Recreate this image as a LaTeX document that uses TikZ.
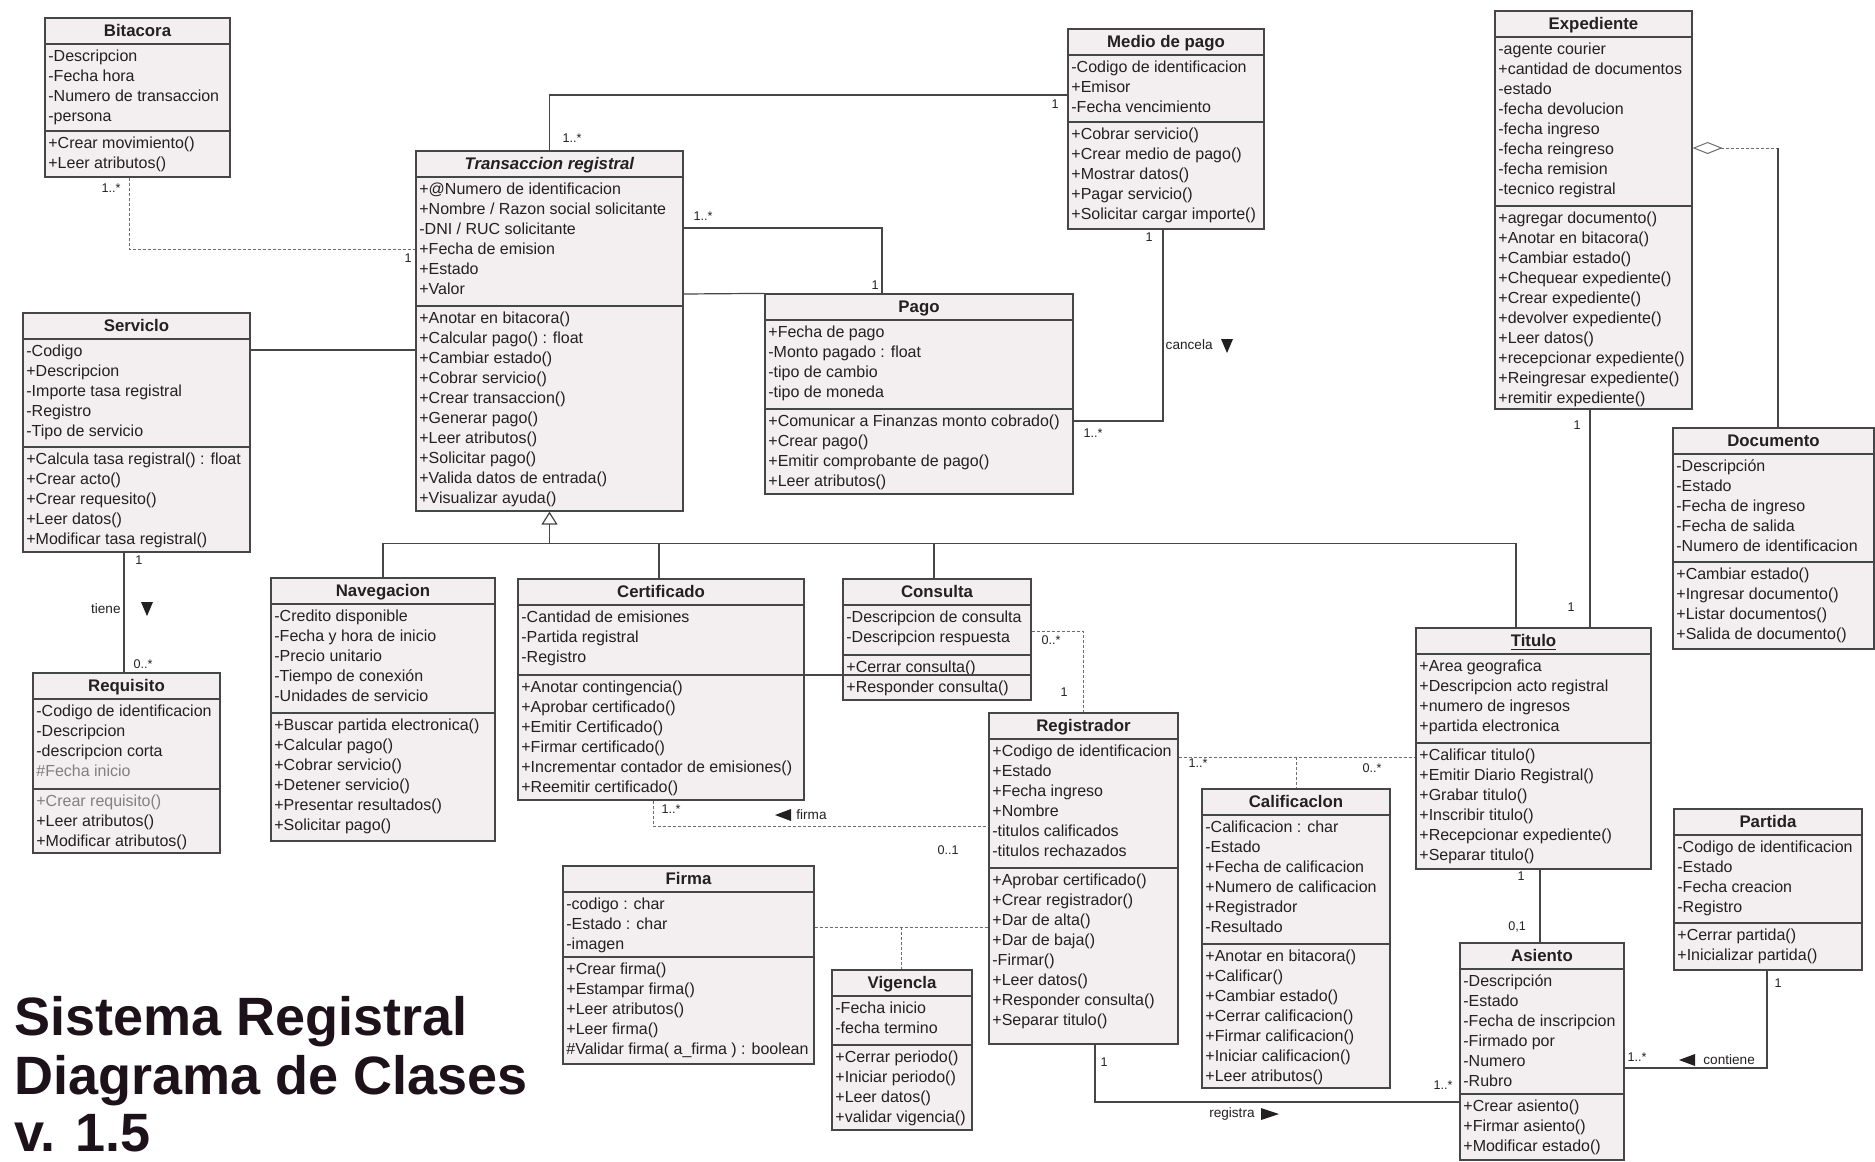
\documentclass[tikz,border=0pt]{standalone}
\usepackage{fontspec}
\setmainfont{Liberation Sans}
\usetikzlibrary{fit,arrows.meta}

\definecolor{boxfill}{RGB}{243,238,240}
\definecolor{linec}{RGB}{70,70,72}
\definecolor{depc}{RGB}{110,108,110}
\definecolor{txtc}{RGB}{35,32,34}
\definecolor{titc}{RGB}{30,18,26}

\tikzset{
  clsbox/.style={rectangle, draw=linec, line width=0.6pt, fill=boxfill, inner sep=0pt},
  sepline/.style={draw=linec, line width=0.6pt},
  hdr/.style={anchor=base, inner sep=0pt, text=txtc, font=\fontsize{8.4}{10}\selectfont\bfseries},
  blk/.style={anchor=north west, inner sep=0pt, align=left, text=txtc, font=\fontsize{8}{10}\selectfont},
  mult/.style={inner sep=0pt, text=txtc, font=\fontsize{6.3}{7}\selectfont},
  rolelbl/.style={inner sep=0pt, text=txtc, font=\fontsize{6.8}{8}\selectfont},
  assoc/.style={draw=linec, line width=0.6pt},
  dep/.style={draw=depc, line width=0.5pt, dash pattern=on 1.5pt off 1pt},
  dirmark/.style={fill=txtc},
  bigtitle/.style={anchor=base west, inner sep=0pt, text=titc, font=\fontsize{27}{30}\selectfont\bfseries},
}

% class box: name, x1, y1, x2, y2, y of attribute/method separator, title, attributes, methods
\newcommand{\umlclass}[9]{%
  \node[clsbox, fit={(#2,#3) (#4,#5)}] (#1) {};
  \draw[sepline] (#2,{#3+26}) -- (#4,{#3+26});
  \draw[sepline] (#2,#6) -- (#4,#6);
  \node[hdr] (#1-t) at ({(#2+#4)/2},{#3+18}) {#7};
  \node[blk] (#1-a) at ({#2+3},{#3+29}) {\strut#8};
  \node[blk] (#1-m) at ({#2+3},{#6+3}) {\strut#9};
}
% filled direction marks
\newcommand{\mkdown}[2]{\fill[dirmark] ({#1-6},{#2-7}) -- ({#1+6},{#2-7}) -- (#1,{#2+7}) -- cycle;}
\newcommand{\mkleft}[2]{\fill[dirmark] ({#1-8},#2) -- ({#1+8},{#2-6}) -- ({#1+8},{#2+6}) -- cycle;}
\newcommand{\mkright}[2]{\fill[dirmark] ({#1+9},#2) -- ({#1-9},{#2-6}) -- ({#1-9},{#2+6}) -- cycle;}

\begin{document}
\begin{tikzpicture}[x=0.5pt,y=-0.5pt]
\useasboundingbox (0,0) rectangle (1875,1162);
\fill[white] (0,0) rectangle (1875,1162);

% ---------- classes ----------
\umlclass{bitacora}{45}{18}{230}{177}{131}{Bitacora}
  {-Descripcion\\-Fecha hora\\-Numero de transaccion\\-persona}
  {+Crear movimiento()\\+Leer atributos()}

\umlclass{trans}{416}{151}{683}{511}{306}{\textit{Transaccion registral}}
  {+@Numero de identificacion\\+Nombre / Razon social solicitante\\-DNI / RUC solicitante\\+Fecha de emision\\+Estado\\+Valor}
  {+Anotar en bitacora()\\+Calcular pago() : float\\+Cambiar estado()\\+Cobrar servicio()\\+Crear transaccion()\\+Generar pago()\\+Leer atributos()\\+Solicitar pago()\\+Valida datos de entrada()\\+Visualizar ayuda()}

\umlclass{medio}{1068}{29}{1264}{229}{122}{Medio de pago}
  {-Codigo de identificacion\\+Emisor\\-Fecha vencimiento}
  {+Cobrar servicio()\\+Crear medio de pago()\\+Mostrar datos()\\+Pagar servicio()\\+Solicitar cargar importe()}

\umlclass{exped}{1495}{11}{1692}{409}{206}{Expediente}
  {-agente courier\\+cantidad de documentos\\-estado\\-fecha devolucion\\-fecha ingreso\\-fecha reingreso\\-fecha remision\\-tecnico registral}
  {+agregar documento()\\+Anotar en bitacora()\\+Cambiar estado()\\+Chequear expediente()\\+Crear expediente()\\+devolver expediente()\\+Leer datos()\\+recepcionar expediente()\\+Reingresar expediente()\\+remitir expediente()}

\umlclass{servicio}{23}{313}{250}{552}{447}{Serviclo}
  {-Codigo\\+Descripcion\\-Importe tasa registral\\-Registro\\-Tipo de servicio}
  {+Calcula tasa registral() : float\\+Crear acto()\\+Crear requesito()\\+Leer datos()\\+Modificar tasa registral()}

\umlclass{pago}{765}{294}{1073}{494}{409}{Pago}
  {+Fecha de pago\\-Monto pagado : float\\-tipo de cambio\\-tipo de moneda}
  {+Comunicar a Finanzas monto cobrado()\\+Crear pago()\\+Emitir comprobante de pago()\\+Leer atributos()}

\umlclass{docu}{1673}{428}{1874}{649}{562}{Documento}
  {-Descripción\\-Estado\\-Fecha de ingreso\\-Fecha de salida\\-Numero de identificacion}
  {+Cambiar estado()\\+Ingresar documento()\\+Listar documentos()\\+Salida de documento()}

\umlclass{nav}{271}{578}{495}{841}{713}{Navegacion}
  {-Credito disponible\\-Fecha y hora de inicio\\-Precio unitario\\-Tiempo de conexión\\-Unidades de servicio}
  {+Buscar partida electronica()\\+Calcular pago()\\+Cobrar servicio()\\+Detener servicio()\\+Presentar resultados()\\+Solicitar pago()}

\umlclass{cert}{518}{579}{804}{800}{675}{Certificado}
  {-Cantidad de emisiones\\-Partida registral\\-Registro}
  {+Anotar contingencia()\\+Aprobar certificado()\\+Emitir Certificado()\\+Firmar certificado()\\+Incrementar contador de emisiones()\\+Reemitir certificado()}

\umlclass{consulta}{843}{579}{1031}{700}{655}{Consulta}
  {-Descripcion de consulta\\-Descripcion respuesta}
  {+Cerrar consulta()\\+Responder consulta()}

\umlclass{regis}{989}{713}{1178}{1044}{868}{Registrador}
  {+Codigo de identificacion\\+Estado\\+Fecha ingreso\\+Nombre\\-titulos calificados\\-titulos rechazados}
  {+Aprobar certificado()\\+Crear registrador()\\+Dar de alta()\\+Dar de baja()\\-Firmar()\\+Leer datos()\\+Responder consulta()\\+Separar titulo()}

\umlclass{calif}{1202}{789}{1390}{1088}{944}{Calificaclon}
  {-Calificacion : char\\-Estado\\+Fecha de calificacion\\+Numero de calificacion\\+Registrador\\-Resultado}
  {+Anotar en bitacora()\\+Calificar()\\+Cambiar estado()\\+Cerrar calificacion()\\+Firmar calificacion()\\+Iniciar calificacion()\\+Leer atributos()}

\umlclass{titulo}{1416}{628}{1651}{869}{743}{\underline{Titulo}}
  {+Area geografica\\+Descripcion acto registral\\+numero de ingresos\\+partida electronica}
  {+Calificar titulo()\\+Emitir Diario Registral()\\+Grabar titulo()\\+Inscribir titulo()\\+Recepcionar expediente()\\+Separar titulo()}

\umlclass{firma}{563}{866}{814}{1064}{957}{Firma}
  {-codigo : char\\-Estado : char\\-imagen}
  {+Crear firma()\\+Estampar firma()\\+Leer atributos()\\+Leer firma()\\\#Validar firma( a\_firma ) : boolean}

\umlclass{vigencia}{832}{970}{972}{1130}{1045}{Vigencla}
  {-Fecha inicio\\-fecha termino}
  {+Cerrar periodo()\\+Iniciar periodo()\\+Leer datos()\\+validar vigencia()}

\umlclass{asiento}{1460}{943}{1624}{1160}{1094}{Asiento}
  {-Descripción\\-Estado\\-Fecha de inscripcion\\-Firmado por\\-Numero\\-Rubro}
  {+Crear asiento()\\+Firmar asiento()\\+Modificar estado()}

\umlclass{partida}{1674}{809}{1862}{970}{923}{Partida}
  {-Codigo de identificacion\\-Estado\\-Fecha creacion\\-Registro}
  {+Cerrar partida()\\+Inicializar partida()}

\umlclass{requisito}{33}{673}{220}{853}{789}{Requisito}
  {-Codigo de identificacion\\-Descripcion\\-descripcion corta\\{\color{gray}\#Fecha inicio}}
  {{\color{gray}+Crear requisito()}\\+Leer atributos()\\+Modificar atributos()}

% ---------- connectors ----------
% Transaccion registral -- Medio de pago
\draw[assoc] (trans.north) |- (medio.west |- 0,95);
\node[mult] (m1) at (572,138) {1..*};
\node[mult] (m2) at (1055,104) {1};

% Transaccion registral -- Pago
\draw[assoc] (trans.east |- 0,228) -| (pago.north -| 882,0);
\node[mult] (m3) at (703,216) {1..*};
\node[mult] (m4) at (875,285) {1};
\draw[assoc] (trans.east |- 0,294) -- (pago.north west);

% Bitacora -- Transaccion registral
\draw[dep] (bitacora.south -| 129,0) |- (trans.west |- 0,249);
\node[mult] (m5) at (111,188) {1..*};
\node[mult] (m6) at (408,258) {1};

% Serviclo -- Transaccion registral
\draw[assoc] (servicio.east |- 0,350) -- (trans.west |- 0,350);

% Medio de pago -- Pago (cancela)
\draw[assoc] (medio.south -| 1163,0) |- (pago.east |- 0,421);
\node[mult] (m7) at (1149,237) {1};
\node[mult] (m8) at (1093,433) {1..*};
\node[rolelbl, anchor=east] (r1) at (1213,345) {cancela};
\mkdown{1227}{346}

% generalization towards Transaccion registral
\draw[assoc, -{Triangle[open,width=8pt,length=6.5pt]}] (trans.south |- 0,544) -- (trans.south);
\draw[assoc] (nav.north -| 383,0) -- ++(0,-34) -| (titulo.north -| 1516,0);
\draw[assoc] (cert.north -| 659,0) -- ++(0,-35);
\draw[assoc] (consulta.north -| 934,0) -- ++(0,-35);

% Certificado / Consulta rule
\draw[assoc] (cert.east |- 0,675) -- (consulta.east |- 0,675);

% Serviclo -- Requisito (tiene)
\draw[assoc] (servicio.south -| 124,0) -- (requisito.north -| 124,0);
\node[mult] (m9) at (139,560) {1};
\node[rolelbl, anchor=east] (r2) at (121,609) {tiene};
\mkdown{147}{609}
\node[mult] (m10) at (143,664) {0..*};

% Expediente <>-- Documento
\coordinate (aggc) at (1778,148);
\draw[dep, {Diamond[open,length=15pt,width=6pt]}-] (exped.east |- aggc) -- (aggc);
\draw[assoc] (aggc) -- (docu.north -| aggc);

% Expediente -- Titulo
\draw[assoc] (exped.south -| 1590,0) -- (titulo.north -| 1590,0);
\node[mult] (m11) at (1577,425) {1};
\node[mult] (m12) at (1571,607) {1};

% Titulo -- Asiento
\draw[assoc] (titulo.south -| 1540,0) -- (asiento.north -| 1540,0);
\node[mult] (m13) at (1521,876) {1};
\node[mult] (m14) at (1517,927) {0,1};

% Partida -- Asiento (contiene)
\draw[assoc] (partida.south -| 1767,0) |- (asiento.east |- 0,1068);
\node[mult] (m15) at (1778,983) {1};
\node[mult] (m16) at (1637,1057) {1..*};
\mkleft{1687}{1060}
\node[rolelbl, anchor=west] (r3) at (1703,1060) {contiene};

% Registrador -- Titulo, association class Calificacion
\draw[dep] (regis.east |- 0,757) -- (titulo.west |- 0,757);
\coordinate (califc) at (1296,757);
\draw[dep] (califc) -- (calif.north -| califc);
\node[mult] (m17) at (1198,763) {1..*};
\node[mult] (m18) at (1372,768) {0..*};

% Registrador -- Asiento (registra)
\draw[assoc] (regis.south -| 1095,0) |- (asiento.west |- 0,1102);
\node[mult] (m19) at (1104,1062) {1};
\node[mult] (m20) at (1443,1085) {1..*};
\node[rolelbl, anchor=east] (r4) at (1255,1114) {registra};
\mkright{1270}{1114}

% Consulta -- Registrador
\draw[dep] (consulta.east |- 0,631) -| (regis.north -| 1083,0);
\node[mult] (m21) at (1051,640) {0..*};
\node[mult] (m22) at (1064,692) {1};

% Certificado -- Registrador (firma)
\draw[dep] (cert.south -| 653,0) |- (regis.west |- 0,826);
\node[mult] (m23) at (671,809) {1..*};
\mkleft{783}{815}
\node[rolelbl, anchor=west] (r5) at (796,815) {firma};
\node[mult] (m24) at (948,850) {0..1};

% Firma -- Registrador, association class Vigencia
\draw[dep] (firma.east |- 0,927) -- (regis.west |- 0,927);
\coordinate (vigc) at (901,927);
\draw[dep] (vigc) -- (vigencia.north -| vigc);

% ---------- title ----------
\node[bigtitle] (tt1) at (14,1035) {Sistema Registral};
\node[bigtitle] (tt2) at (14,1094) {Diagrama de Clases};
\node[bigtitle] (tt3) at (14,1151) {v. 1.5};
\end{tikzpicture}
\end{document}
